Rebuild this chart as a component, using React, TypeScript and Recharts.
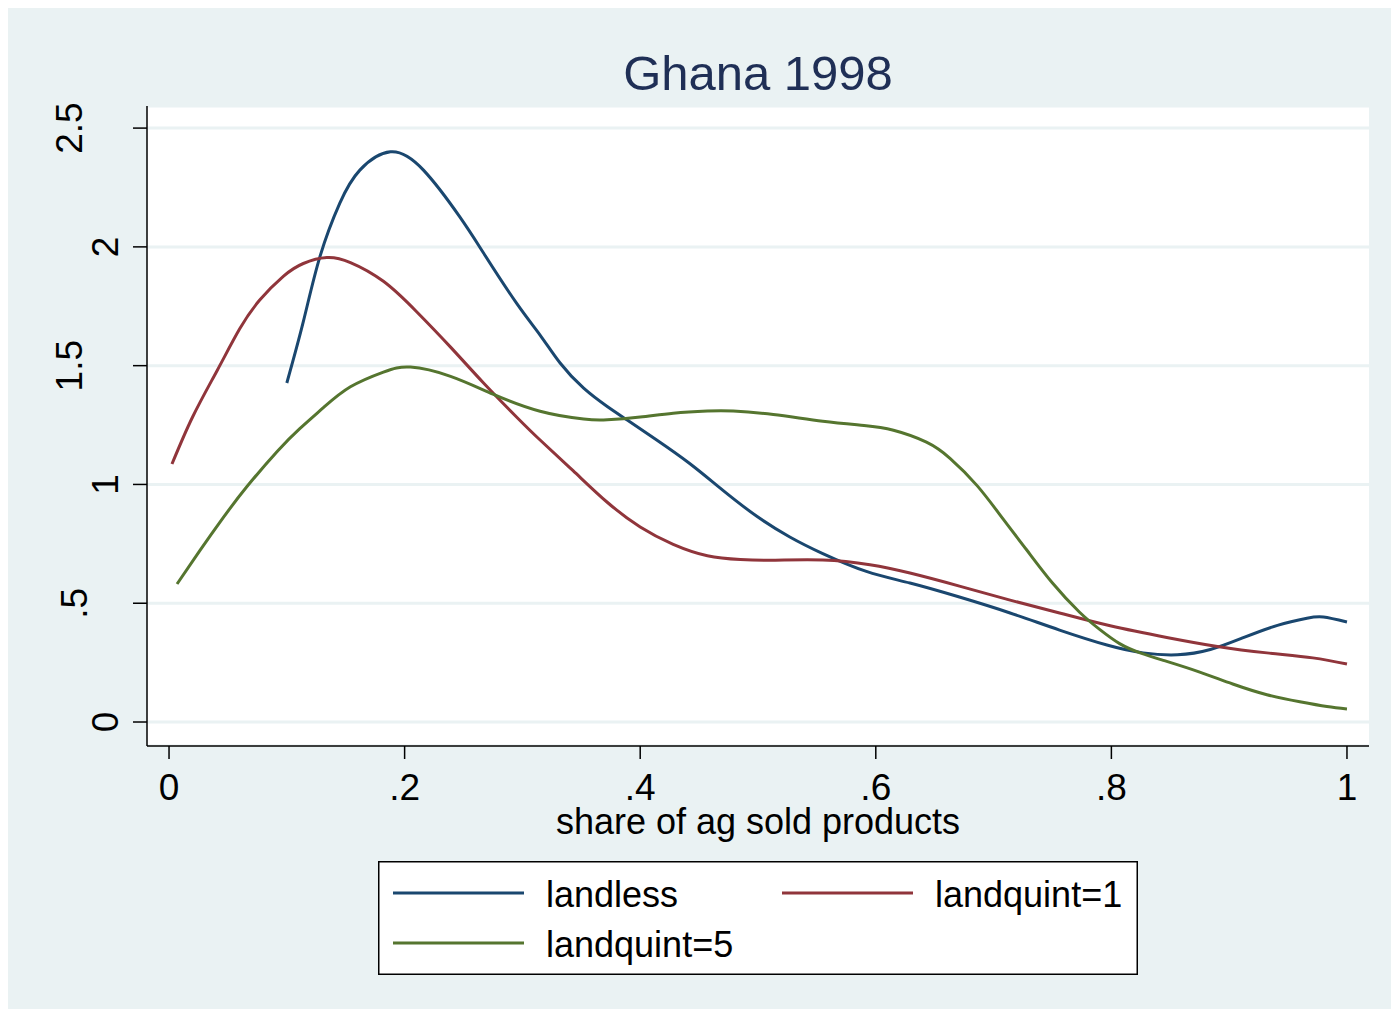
import React from 'react';
import { LineChart, Line, XAxis, YAxis, CartesianGrid, Legend } from 'recharts';

// ---- Data ----
const landlessX = [0.1, 0.114, 0.128, 0.145, 0.162, 0.188, 0.216, 0.247, 0.267, 0.295, 0.315, 0.332, 0.352, 0.372, 0.389, 0.414, 0.442, 0.47, 0.499, 0.527, 0.555, 0.592, 0.629, 0.671, 0.714, 0.756, 0.797, 0.827, 0.856, 0.884, 0.912, 0.941, 0.966, 0.98, 1.0];
const landlessY = [1.427, 1.685, 1.957, 2.184, 2.323, 2.4, 2.323, 2.125, 1.974, 1.763, 1.629, 1.511, 1.405, 1.328, 1.271, 1.187, 1.088, 0.976, 0.866, 0.779, 0.709, 0.634, 0.585, 0.526, 0.459, 0.387, 0.323, 0.291, 0.283, 0.305, 0.355, 0.407, 0.437, 0.442, 0.421];

const quint1X = [0.0025, 0.02, 0.041, 0.06, 0.077, 0.097, 0.114, 0.134, 0.154, 0.182, 0.21, 0.239, 0.267, 0.295, 0.315, 0.343, 0.372, 0.4, 0.428, 0.457, 0.485, 0.513, 0.555, 0.595, 0.629, 0.671, 0.714, 0.756, 0.799, 0.847, 0.89, 0.932, 0.971, 1.0];
const quint1Y = [1.086, 1.284, 1.481, 1.655, 1.776, 1.876, 1.93, 1.955, 1.934, 1.855, 1.728, 1.578, 1.427, 1.284, 1.187, 1.058, 0.925, 0.821, 0.748, 0.7, 0.684, 0.681, 0.682, 0.662, 0.627, 0.572, 0.513, 0.459, 0.405, 0.356, 0.318, 0.291, 0.27, 0.244];

const quint5X = [0.0068, 0.026, 0.046, 0.066, 0.092, 0.111, 0.131, 0.154, 0.182, 0.205, 0.239, 0.275, 0.315, 0.352, 0.372, 0.4, 0.428, 0.457, 0.479, 0.513, 0.555, 0.59, 0.615, 0.643, 0.663, 0.686, 0.708, 0.728, 0.75, 0.773, 0.79, 0.807, 0.825, 0.847, 0.875, 0.903, 0.932, 0.96, 0.983, 1.0];
const quint5Y = [0.581, 0.72, 0.86, 0.99, 1.14, 1.235, 1.323, 1.411, 1.473, 1.494, 1.455, 1.38, 1.308, 1.275, 1.272, 1.284, 1.3, 1.309, 1.309, 1.294, 1.266, 1.248, 1.228, 1.178, 1.11, 0.995, 0.855, 0.725, 0.585, 0.462, 0.39, 0.33, 0.29, 0.255, 0.21, 0.16, 0.115, 0.085, 0.065, 0.055];

const xTicks = [0, 0.2, 0.4, 0.6, 0.8, 1];
const xTickLabels = ['0', '.2', '.4', '.6', '.8', '1'];
const yTicks = [0, 0.5, 1, 1.5, 2, 2.5];
const yTickLabels = ['0', '.5', '1', '1.5', '2', '2.5'];

const seriesNames = ['landless', 'landquint=1', 'landquint=5'];
const chartTitle = 'Ghana 1998';
const xAxisTitle = 'share of ag sold products';

// ---- Build series tables ----
const zip = (xs: number[], ys: number[]) => xs.map((x, i) => ({ x, y: ys[i] }));
const landlessData = zip(landlessX, landlessY);
const quint1Data = zip(quint1X, quint1Y);
const quint5Data = zip(quint5X, quint5Y);

const FONT = '"Liberation Sans", Arial, Helvetica, sans-serif';
const BG = '#EAF2F3';
const COLORS = ['#1A476F', '#90353B', '#55752F'];

const W = 1383;
const H = 1001;

const XTick = (props: any) => {
  const { x, y, payload } = props;
  const idx = xTicks.indexOf(payload.value);
  const label = idx >= 0 ? xTickLabels[idx] : String(payload.value);
  return (
    <text x={x} y={y + 39} textAnchor="middle" fontSize={37} fill="#000" fontFamily={FONT}>
      {label}
    </text>
  );
};

const YTick = (props: any) => {
  const { x, y, payload } = props;
  const idx = yTicks.indexOf(payload.value);
  const label = idx >= 0 ? yTickLabels[idx] : String(payload.value);
  const shift = label.length === 1 ? 13 : label.length === 2 ? 44 : 49;
  const bx = x - shift;
  return (
    <text
      x={bx}
      y={y}
      transform={`rotate(-90, ${bx}, ${y})`}
      textAnchor="middle"
      fontSize={37}
      fill="#000"
      fontFamily={FONT}
    >
      {label}
    </text>
  );
};

const renderLegend = (props: any) => {
  const payload = props.payload || [];
  return (
    <svg width={760} height={114} style={{ display: 'block' }}>
      <rect x={0.75} y={0.75} width={758.5} height={112.5} fill="#fff" stroke="#000" strokeWidth={1.5} />
      {payload.map((p: any, i: number) => {
        const row = Math.floor(i / 2);
        const col = i % 2;
        const lx = col ? 404 : 15;
        const ty = row ? 82 : 32;
        return (
          <g key={String(p.value)}>
            <line x1={lx} x2={lx + 131} y1={ty} y2={ty} stroke={p.color} strokeWidth={3} />
            <text x={lx + 153} y={ty + 14} fontSize={36} fill="#000" fontFamily={FONT}>
              {p.value}
            </text>
          </g>
        );
      })}
    </svg>
  );
};

export default function App() {
  return (
    <div style={{ position: 'relative', width: W, height: H, background: BG, fontFamily: FONT }}>
      <div
        style={{
          position: 'absolute',
          left: 139,
          top: 41,
          width: 1222,
          textAlign: 'center',
          fontSize: 49,
          lineHeight: '48px',
          color: '#1F2F56',
          fontFamily: FONT,
          zIndex: 2,
        }}
      >
        {chartTitle}
      </div>
      <LineChart width={W} height={H} margin={{ top: 98, right: 22, left: 0, bottom: 0 }}>
        <CartesianGrid vertical={false} stroke={BG} strokeWidth={3} fill="#fff" />
        <XAxis
          dataKey="x"
          type="number"
          domain={[-0.0187, 1.0187]}
          ticks={xTicks}
          allowDataOverflow
          height={263}
          tickSize={13}
          tick={<XTick />}
          axisLine={{ stroke: '#000', strokeWidth: 1.5 }}
          tickLine={{ stroke: '#000', strokeWidth: 1.5 }}
          label={{ value: xAxisTitle, position: 'insideTop', offset: 62, fontSize: 36, fill: '#000', fontFamily: FONT }}
        />
        <YAxis
          type="number"
          domain={[-0.101, 2.593]}
          ticks={yTicks}
          allowDataOverflow
          width={139}
          tickSize={14}
          tick={<YTick />}
          axisLine={{ stroke: '#000', strokeWidth: 1.5 }}
          tickLine={{ stroke: '#000', strokeWidth: 1.5 }}
        />
        <Legend
          layout="vertical"
          align="center"
          verticalAlign="middle"
          wrapperStyle={{ left: 370, top: 853, width: 760, height: 114 }}
          content={renderLegend}
        />
        <Line data={landlessData} dataKey="y" name={seriesNames[0]} type="natural" stroke={COLORS[0]} strokeWidth={3} dot={false} isAnimationActive={false} />
        <Line data={quint1Data} dataKey="y" name={seriesNames[1]} type="natural" stroke={COLORS[1]} strokeWidth={3} dot={false} isAnimationActive={false} />
        <Line data={quint5Data} dataKey="y" name={seriesNames[2]} type="natural" stroke={COLORS[2]} strokeWidth={3} dot={false} isAnimationActive={false} />
      </LineChart>
    </div>
  );
}
